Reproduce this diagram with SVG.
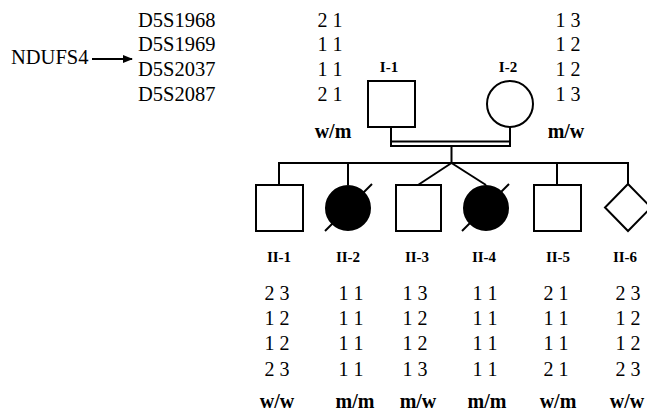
<svg xmlns="http://www.w3.org/2000/svg" width="647" height="413" viewBox="0 0 647 413">
<style>
text{font-family:"Liberation Serif","Times New Roman",serif;fill:#000}
.t{font-size:20px}
.d{font-size:20.5px}
.m{text-anchor:middle}
.b{font-weight:bold;font-size:20px}
.lb{font-weight:bold;font-size:15px;text-anchor:middle}
.ln{stroke:#000;stroke-width:2;fill:none}
.sh{stroke:#000;stroke-width:2;fill:#fff}
.af{fill:#000;stroke:#000;stroke-width:2}
</style>
<defs>
<marker id="ah" markerWidth="10" markerHeight="8" refX="9" refY="4" orient="auto" markerUnits="userSpaceOnUse">
<path d="M0,0 L10,4 L0,8 Z" fill="#000"/>
</marker>
</defs>
<rect width="647" height="413" fill="#fff"/>
<g id="markers">
<text class="d" x="11" y="64">NDUFS4</text>
<line class="ln" x1="92" y1="59" x2="132" y2="59" marker-end="url(#ah)"/>
<text class="d" x="138" y="27">D5S1968</text>
<text class="d" x="138" y="51">D5S1969</text>
<text class="d" x="138" y="76">D5S2037</text>
<text class="d" x="138" y="101">D5S2087</text>
</g>
<g id="connectors" class="ln">
<line x1="391" y1="127" x2="391" y2="146"/>
<line x1="510" y1="127" x2="510" y2="146"/>
<line x1="391" y1="141.5" x2="510" y2="141.5"/>
<line x1="390" y1="146" x2="511" y2="146"/>
<line x1="451.5" y1="146" x2="451.5" y2="163"/>
<line x1="278" y1="163" x2="629" y2="163"/>
<line x1="279" y1="163" x2="279" y2="185"/>
<line x1="348" y1="163" x2="348" y2="185"/>
<line x1="557" y1="163" x2="557" y2="185"/>
<line x1="628" y1="163" x2="628" y2="184"/>
<line x1="451.5" y1="163" x2="418" y2="185"/>
<line x1="451.5" y1="163" x2="486" y2="185"/>
</g>
<g id="I-1">
<rect class="sh" x="368" y="81" width="47" height="46"/>
<text class="lb" x="389" y="72">I-1</text>
<text class="t m" x="330" y="27">2 1</text>
<text class="t m" x="330" y="51">1 1</text>
<text class="t m" x="330" y="76">1 1</text>
<text class="t m" x="330" y="101">2 1</text>
<text class="b m" x="333" y="138">w/m</text>
</g>
<g id="I-2">
<circle class="sh" cx="510" cy="104" r="23"/>
<text class="lb" x="508" y="72">I-2</text>
<text class="t m" x="568" y="27">1 3</text>
<text class="t m" x="568" y="51">1 2</text>
<text class="t m" x="568" y="76">1 2</text>
<text class="t m" x="568" y="101">1 3</text>
<text class="b m" x="566" y="138">m/w</text>
</g>
<g id="II-1">
<rect class="sh" x="256" y="185" width="47" height="46"/>
<text class="lb" x="279" y="262">II-1</text>
<text class="t m" x="277" y="300">2 3</text>
<text class="t m" x="277" y="325">1 2</text>
<text class="t m" x="277" y="350">1 2</text>
<text class="t m" x="277" y="376">2 3</text>
<text class="b m" x="277" y="408">w/w</text>
</g>
<g id="II-2">
<circle class="af" cx="348" cy="208" r="22"/>
<line class="ln" x1="325" y1="231" x2="372" y2="184"/>
<text class="lb" x="348" y="262">II-2</text>
<text class="t m" x="351" y="300">1 1</text>
<text class="t m" x="351" y="325">1 1</text>
<text class="t m" x="351" y="350">1 1</text>
<text class="t m" x="351" y="376">1 1</text>
<text class="b m" x="355" y="408">m/m</text>
</g>
<g id="II-3">
<rect class="sh" x="396" y="185" width="45" height="46"/>
<text class="lb" x="417" y="262">II-3</text>
<text class="t m" x="415" y="300">1 3</text>
<text class="t m" x="415" y="325">1 2</text>
<text class="t m" x="415" y="350">1 2</text>
<text class="t m" x="415" y="376">1 3</text>
<text class="b m" x="418" y="408">m/w</text>
</g>
<g id="II-4">
<circle class="af" cx="486" cy="208" r="22"/>
<line class="ln" x1="462" y1="231" x2="509" y2="184"/>
<text class="lb" x="484" y="262">II-4</text>
<text class="t m" x="485" y="300">1 1</text>
<text class="t m" x="485" y="325">1 1</text>
<text class="t m" x="485" y="350">1 1</text>
<text class="t m" x="485" y="376">1 1</text>
<text class="b m" x="487" y="408">m/m</text>
</g>
<g id="II-5">
<rect class="sh" x="534" y="185" width="47" height="46"/>
<text class="lb" x="558" y="262">II-5</text>
<text class="t m" x="556" y="300">2 1</text>
<text class="t m" x="556" y="325">1 1</text>
<text class="t m" x="556" y="350">1 1</text>
<text class="t m" x="556" y="376">2 1</text>
<text class="b m" x="558" y="408">w/m</text>
</g>
<g id="II-6">
<path class="sh" d="M628,184 L651,207.5 L628,231 L605,207.5 Z"/>
<text class="lb" x="625" y="262">II-6</text>
<text class="t m" x="628" y="300">2 3</text>
<text class="t m" x="628" y="325">1 2</text>
<text class="t m" x="628" y="350">1 2</text>
<text class="t m" x="628" y="376">2 3</text>
<text class="b m" x="627" y="408">w/w</text>
</g>
</svg>
